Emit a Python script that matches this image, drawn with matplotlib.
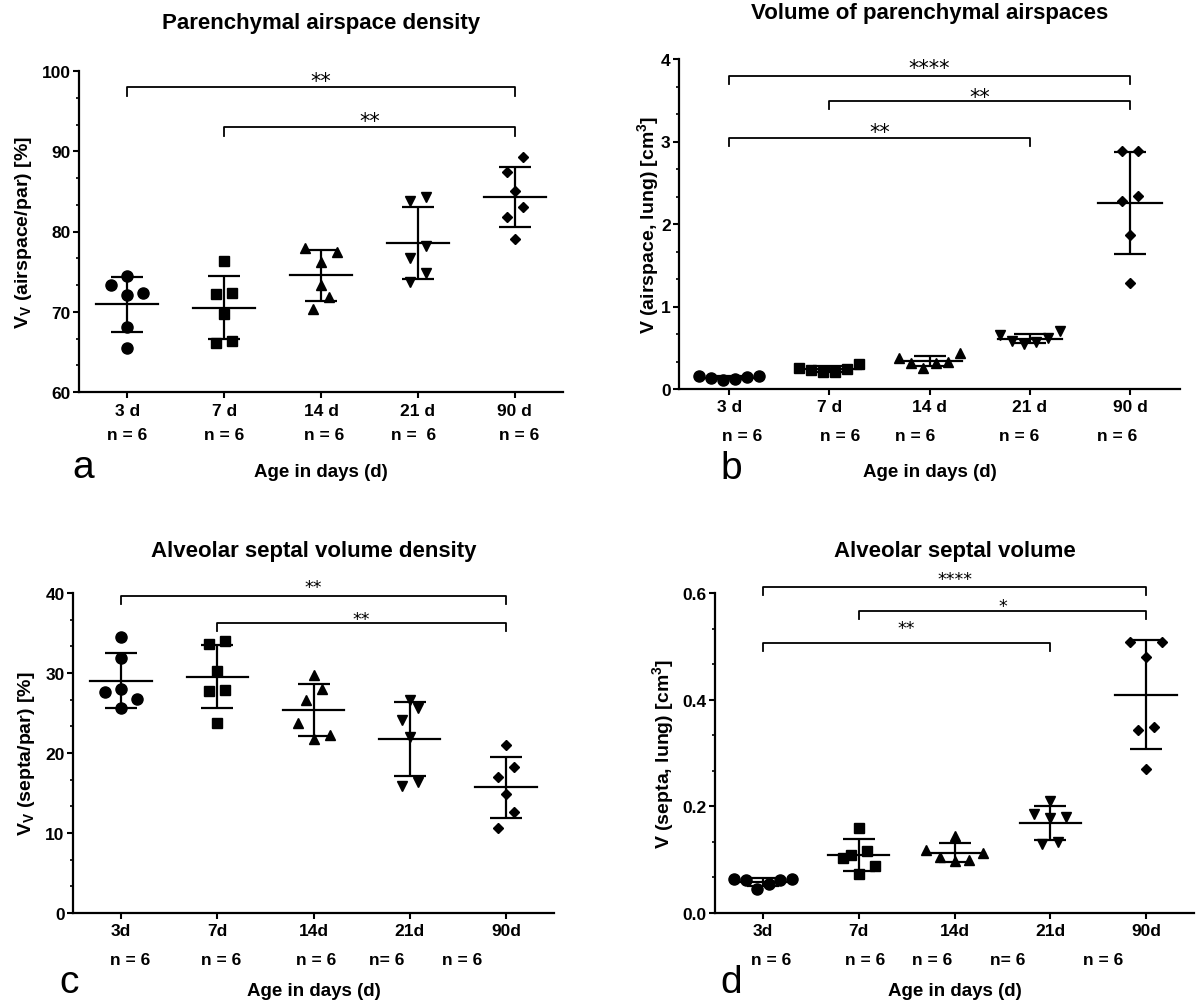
import numpy as np
import matplotlib
matplotlib.use("Agg")
import matplotlib.pyplot as plt
from matplotlib.ticker import AutoMinorLocator

plt.rcParams['font.family'] = ['Liberation Sans', 'DejaVu Sans']
plt.rcParams['font.weight'] = 'bold'
plt.rcParams['mathtext.fontset'] = 'custom'
plt.rcParams['mathtext.rm'] = 'Liberation Sans:bold'
plt.rcParams['mathtext.default'] = 'rm'

# ---- data ----
ages_ab = ["3 d", "7 d", "14 d", "21 d", "90 d"]
ages_cd = ["3d", "7d", "14d", "21d", "90d"]
n_ab = ["n = 6", "n = 6", "n = 6", "n =  6", "n = 6"]
n_b = ["n = 6", "n = 6", "n = 6", "n = 6", "n = 6"]
n_cd = ["n = 6", "n = 6", "n = 6", "n= 6", "n = 6"]

# a: parenchymal airspace density [%]
a_3d = [74.4, 73.3, 72.3, 72.1, 68.1, 65.5]
a_7d = [76.3, 72.2, 72.3, 69.7, 66.1, 66.3]
a_14d = [78.0, 77.5, 76.2, 73.3, 71.9, 70.3]
a_21d = [84.3, 83.8, 78.2, 76.7, 74.8, 73.7]
a_90d = [89.3, 87.4, 85.1, 83.0, 81.8, 79.1]

# b: volume of parenchymal airspaces [cm3]
b_3d = [0.16, 0.13, 0.11, 0.12, 0.15, 0.16]
b_7d = [0.26, 0.23, 0.21, 0.21, 0.24, 0.30]
b_14d = [0.38, 0.32, 0.26, 0.32, 0.33, 0.44]
b_21d = [0.66, 0.58, 0.54, 0.57, 0.62, 0.70]
b_90d = [2.89, 2.89, 2.34, 2.28, 1.87, 1.28]

# c: alveolar septal volume density [%]
c_3d = [34.5, 31.9, 28.0, 27.6, 26.7, 25.6]
c_7d = [34.0, 33.6, 30.2, 27.9, 27.7, 23.7]
c_14d = [29.7, 28.0, 26.6, 23.8, 22.3, 21.8]
c_21d = [26.6, 25.6, 24.1, 22.0, 16.4, 15.9]
c_90d = [21.0, 18.3, 17.0, 14.9, 12.6, 10.6]

# d: alveolar septal volume [cm3]
d_3d = [0.064, 0.063, 0.061, 0.061, 0.055, 0.045]
d_7d = [0.160, 0.116, 0.109, 0.103, 0.088, 0.074]
d_14d = [0.145, 0.118, 0.112, 0.105, 0.100, 0.098]
d_21d = [0.210, 0.186, 0.180, 0.178, 0.133, 0.129]
d_90d = [0.508, 0.508, 0.480, 0.348, 0.343, 0.270]

# significance brackets: (group1, group2, level, stars)
sig_a = [(0, 4, 98.0, "**"), (1, 4, 93.0, "**")]
sig_b = [(0, 4, 3.80, "****"), (1, 4, 3.49, "**"), (0, 3, 3.04, "**")]
sig_c = [(0, 4, 39.6, "**"), (1, 4, 36.2, "**")]
sig_d = [(0, 4, 0.611, "****"), (1, 4, 0.566, "*"), (0, 3, 0.507, "**")]

yt_a = [60, 70, 80, 90, 100]
yt_b = [0, 1, 2, 3, 4]
yt_c = [0, 10, 20, 30, 40]
yt_d = [0.0, 0.2, 0.4, 0.6]
ytl_d = ["0.0", "0.2", "0.4", "0.6"]

markers = ['o', 's', '^', 'v', 'D']
msizes = [8, 7.5, 7.8, 7.8, 5.4]

W, H = 1203, 1003
fig = plt.figure(figsize=(W / 100, H / 100), dpi=100)


def px_axes(l, r, t, b):
    return fig.add_axes([l / W, 1 - b / H, (r - l) / W, (b - t) / H])


def swarm(vals, px_unit, cat_px, step=16.0, row_h=16.5, cap=0.3):
    # GraphPad-like spreading: points of similar value go into one row
    vals = np.asarray(vals)
    order = np.argsort(vals, kind='stable')
    rows = []
    for i in order:
        if rows and (vals[i] - vals[rows[-1][0]]) * px_unit < row_h:
            rows[-1].append(i)
        else:
            rows.append([i])
    offs = np.zeros(len(vals))
    for row in rows:
        n = len(row)
        st = step if n == 1 else min(step, cap * cat_px / ((n - 1) / 2))
        slots = np.arange(n) - (n - 1) / 2
        slots = sorted(slots, key=lambda s: (abs(s), -s if n % 2 else s))
        for i, s in zip(row, slots):
            offs[i] = s * st / cat_px
    return offs


def panel(box, groups, ylim, yticks, ytl, ticklabels, nlabels, n_off, n_dy,
          tick_dy, sigs, sig_drop_px, sig_gap_px, star_size, title, title_y,
          ylabel, ylabel_x, xlabel_y, letter, letter_xy):
    l, r, t, b = box
    ax = px_axes(l, r, t, b)
    px_unit = (b - t) / (ylim[1] - ylim[0])
    cat_px = (r - l) / 5
    for i, vals in enumerate(groups):
        vals = np.asarray(vals)
        offs = swarm(vals, px_unit, cat_px)
        ax.plot(i + offs, vals, ls='none', marker=markers[i], ms=msizes[i],
                color='black', mec='black', zorder=3, clip_on=False)
        m = vals.mean()
        sd = vals.std(ddof=1)
        ax.plot([i - 0.32, i + 0.32], [m, m], color='black', lw=1.6, zorder=4)
        ax.errorbar(i, m, yerr=sd, fmt='none', ecolor='black', elinewidth=1.6,
                    capsize=11.5, capthick=1.6, zorder=4)
    ax.set_xlim(-0.5, 4.5)
    ax.set_ylim(*ylim)
    ax.set_yticks(yticks)
    ax.set_yticklabels(ytl if ytl else [str(v) for v in yticks])
    ax.yaxis.set_minor_locator(AutoMinorLocator(3))
    ax.set_xticks(range(5))
    ax.set_xticklabels([])
    for sp in ['top', 'right']:
        ax.spines[sp].set_visible(False)
    for sp in ['left', 'bottom']:
        ax.spines[sp].set_linewidth(1.6)
    ax.tick_params(which='major', length=4, width=1.5, labelsize=12.5, pad=2)
    ax.tick_params(which='minor', length=2.5, width=1.2)
    ax.tick_params(axis='x', length=4)
    for lab in ax.get_yticklabels():
        lab.set_fontweight('bold')

    # category labels and group sizes
    for i in range(5):
        ax.annotate(ticklabels[i], xy=(i, 0), xycoords=('data', 'axes fraction'),
                    xytext=(0, -tick_dy * 0.72), textcoords='offset points',
                    ha='center', va='center', fontsize=12.5, fontweight='bold')
        ax.annotate(nlabels[i], xy=(i + n_off[i], 0), xycoords=('data', 'axes fraction'),
                    xytext=(0, -n_dy * 0.72), textcoords='offset points',
                    ha='center', va='center', fontsize=12.5, fontweight='bold')

    # significance brackets
    for (g1, g2, lev, stars), gap in zip(sigs, sig_gap_px):
        drop = sig_drop_px / px_unit
        ax.plot([g1, g1, g2, g2], [lev - drop, lev, lev, lev - drop],
                color='black', lw=1.3, clip_on=False)
        ax.annotate(stars, xy=((g1 + g2) / 2, lev), xytext=(0, gap * 0.72),
                    textcoords='offset points', ha='center', va='center',
                    fontsize=star_size, fontweight='normal', family='DejaVu Sans',
                    annotation_clip=False)

    cx = (l + r) / 2
    fig.text(cx / W, 1 - title_y / H, title, ha='center', va='center',
             fontsize=16, fontweight='bold')
    fig.text(ylabel_x / W, 1 - (t + b) / 2 / H, ylabel, ha='center', va='center',
             rotation=90, fontsize=14, fontweight='bold')
    fig.text(cx / W, 1 - xlabel_y / H, "Age in days (d)", ha='center', va='center',
             fontsize=13.5, fontweight='bold')
    fig.text(letter_xy[0] / W, 1 - letter_xy[1] / H, letter, ha='left', va='baseline',
             fontsize=28, fontweight='normal')
    return ax


panel((79, 563, 72, 393), [a_3d, a_7d, a_14d, a_21d, a_90d], (60, 100), yt_a, None,
      ages_ab, n_ab, [0, 0, 0.03, -0.04, 0.05], 42, 19,
      sig_a, 9, [6.5, 6.5], 15, "Parenchymal airspace density", 23,
      r"V$_{\rm V}$ (airspace/par) [%]", 24, 473, "a", (72, 478))

panel((679, 1180, 60, 390), [b_3d, b_7d, b_14d, b_21d, b_90d], (0, 4), yt_b, None,
      ages_ab, n_b, [0.13, 0.11, -0.14, -0.11, -0.13], 47, 18,
      sig_b, 8, [7.5, 4, 6.5], 15, "Volume of parenchymal airspaces", 13,
      r"V (airspace, lung) [cm$^{3}$]", 648, 473, "b", (720, 479))

panel((73, 554, 594, 914), [c_3d, c_7d, c_14d, c_21d, c_90d], (0, 40), yt_c, None,
      ages_cd, n_cd, [0.09, 0.04, 0.03, -0.24, -0.46], 47, 18,
      sig_c, 8, [9, 4.5], 12.5, "Alveolar septal volume density", 552,
      r"V$_{\rm V}$ (septa/par) [%]", 27, 992, "c", (59, 993))

panel((715, 1194, 594, 914), [d_3d, d_7d, d_14d, d_21d, d_90d], (0, 0.6), yt_d, ytl_d,
      ages_cd, n_cd, [0.09, 0.07, -0.23, -0.45, -0.45], 47, 18,
      sig_d, 8, [8, 5, 15], 12.5, "Alveolar septal volume", 552,
      r"V (septa, lung) [cm$^{3}$]", 663, 992, "d", (720, 993))

fig.savefig("out.png", dpi=100, facecolor='white')
